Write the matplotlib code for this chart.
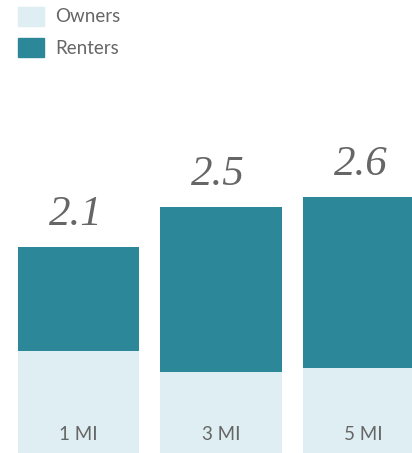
import matplotlib
matplotlib.use("Agg")
import matplotlib.pyplot as plt
from matplotlib.patches import Rectangle

categories = ["1 MI", "3 MI", "5 MI"]
owners = [1.06, 0.85, 0.89]
renters = [1.04, 1.65, 1.71]
totals = [2.1, 2.5, 2.6]
series_names = ["Owners", "Renters"]

OWN_C = "#DFEEF2"
REN_C = "#2C8799"
TXT_C = "#666666"

W, H = 412, 453
fig = plt.figure(figsize=(W / 100, H / 100), dpi=100)
ax = fig.add_axes([0, 0, 1, 1])
ax.set_axis_off()

x = list(range(len(categories)))
ax.bar(x, owners, width=0.85, color=OWN_C, zorder=2)
ax.bar(x, renters, bottom=owners, width=0.85, color=REN_C, zorder=2)

ax.set_xlim(-0.551, 2.340)
ax.set_ylim(0.04, 4.57)

for xi, t, lab in zip(x, totals, categories):
    ax.text(xi - 0.02, t + 0.22, "%s" % t, ha="center", va="baseline",
            fontsize=31, color=TXT_C, family="Liberation Serif", style="italic")
    ax.text(xi, 0.22, lab, ha="center", va="center",
            fontsize=13.5, color=TXT_C, family="Lato")

# legend
for i, (name, col) in enumerate(zip(series_names, [OWN_C, REN_C])):
    y0 = 7 + i * 31
    fig.patches.append(Rectangle((18 / W, 1 - (y0 + 19) / H), 26 / W, 19 / H,
                                 transform=fig.transFigure, color=col))
    fig.text(55 / W, 1 - (y0 + 10) / H, name, ha="left", va="center",
             fontsize=13.5, color=TXT_C, family="Lato")

fig.savefig("out.png", dpi=100)
